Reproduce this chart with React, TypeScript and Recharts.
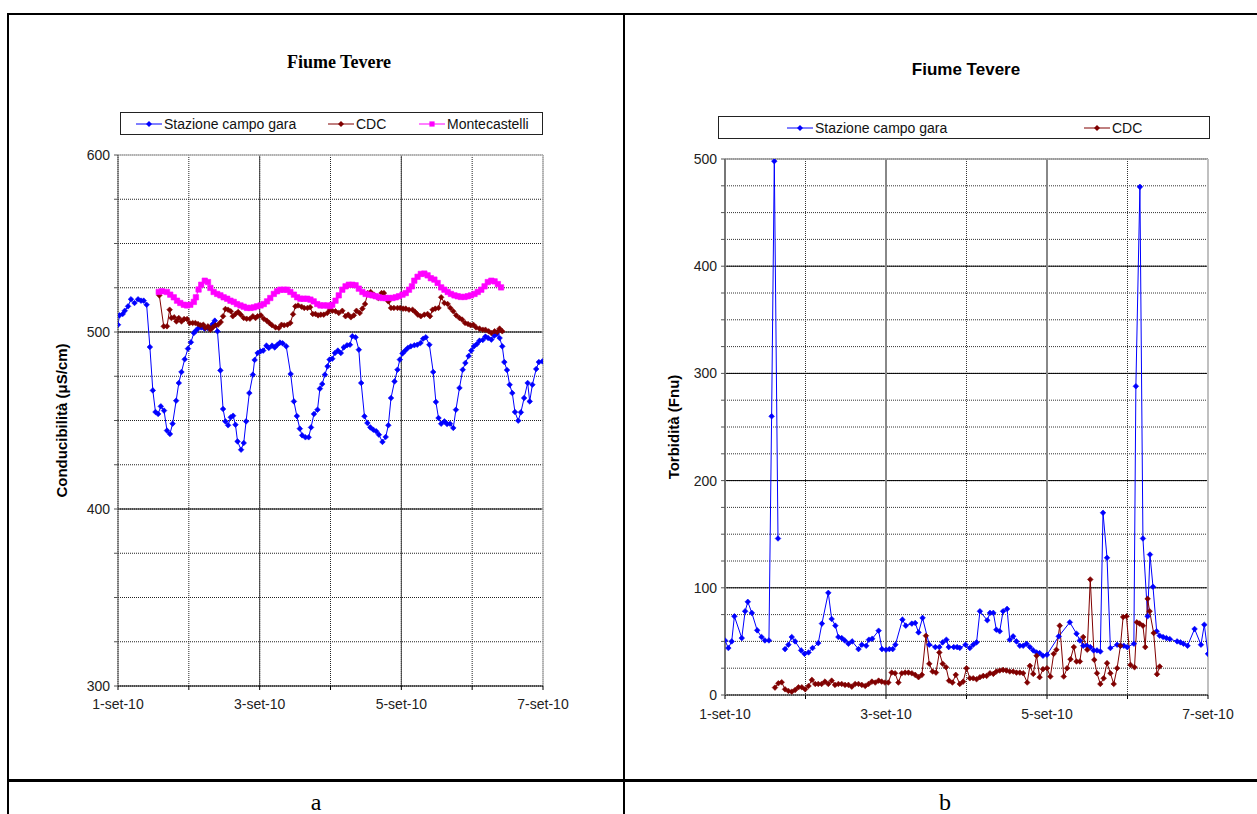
import React from 'react';
import { LineChart, Line, XAxis, YAxis, CartesianGrid, ReferenceLine, Legend, Label } from 'recharts';

// ---------- shared axis data ----------
const dayTicks = [0, 24, 48, 72, 96, 120, 144];
const dayLabels: Record<number, string> = { 0: '1-set-10', 48: '3-set-10', 96: '5-set-10', 144: '7-set-10' };
const condTicks = [300, 325, 350, 375, 400, 425, 450, 475, 500, 525, 550, 575, 600];
const condMajor = [400, 500];
const turbTicks = [0, 25, 50, 75, 100, 125, 150, 175, 200, 225, 250, 275, 300, 325, 350, 375, 400, 425, 450, 475, 500];
const turbMajor = [100, 200, 300, 400];
const dayMajor = [48, 96];

// ---------- series names ----------
const nameStazione = 'Stazione campo gara';
const nameCdc = 'CDC';
const nameMonte = 'Montecastelli';
const legendA = [nameStazione, nameCdc, nameMonte];
const legendB = [nameStazione, nameCdc];

// ---------- chart a : conducibilità ----------
const condStazioneT = [0, 0.5, 1.6, 2.3, 3.4, 4.4, 5.6, 6.8, 7.8, 8.7, 9.7, 10.8, 11.8, 12.7, 13.6, 14.5, 15.6, 16.6, 17.6, 18.5, 19.7, 20.6, 21.5, 22.6, 23.7, 24.7, 25.7, 26.4, 27.3, 28.2, 29.3, 30.3, 31.3, 32.1, 32.8, 33.7, 34.7, 35.6, 36.4, 37.3, 38.2, 39.0, 39.8, 40.5, 41.7, 42.6, 43.4, 44.5, 45.7, 46.3, 47.3, 48.3, 49.2, 50.3, 51.1, 52.2, 53.1, 54.0, 54.9, 55.8, 57.0, 58.5, 59.6, 60.6, 61.6, 62.4, 63.5, 64.6, 65.4, 66.4, 67.6, 68.4, 69.2, 70.1, 71.0, 71.7, 72.6, 73.5, 74.5, 75.5, 76.5, 77.6, 78.6, 79.4, 80.5, 81.6, 82.4, 83.5, 84.5, 85.5, 86.5, 87.5, 88.4, 89.6, 90.7, 91.6, 92.5, 93.7, 94.7, 95.5, 96.4, 97.3, 98.2, 99.2, 100.4, 101.4, 102.5, 103.4, 104.3, 105.5, 106.8, 107.7, 108.6, 109.5, 110.6, 111.5, 112.5, 113.6, 114.5, 115.7, 116.8, 117.7, 118.8, 119.7, 120.6, 121.6, 122.5, 123.6, 124.5, 125.4, 126.5, 127.5, 128.4, 129.3, 130.2, 130.9, 131.8, 132.7, 133.6, 134.5, 135.6, 136.5, 137.6, 138.8, 139.5, 140.4, 141.7, 142.6, 143.8];
const condStazioneV = [504.1, 509.4, 510.2, 512, 514.5, 518.5, 516.4, 518.5, 517.7, 517.7, 515.4, 491.5, 467, 454.8, 453.7, 458, 455.6, 444.3, 442.4, 448.2, 461.2, 471.2, 477.4, 484.6, 490.6, 494.2, 499.4, 500.8, 502.3, 502.6, 501.9, 502.3, 502.6, 504.5, 506.4, 500.4, 478.3, 456.5, 449.5, 447.3, 451.8, 452.7, 447.6, 438.2, 433.5, 437.3, 449.5, 465.5, 475.9, 484.2, 488.1, 489.1, 489.5, 492.3, 491, 492.3, 491.3, 492.8, 494, 493.6, 491.9, 476.3, 460.8, 452.5, 445.4, 441.6, 440.5, 440.5, 446.1, 453.7, 456.1, 468, 470.6, 475.9, 480.6, 484.4, 484.9, 488.1, 489.5, 488.1, 491.3, 492.5, 492.8, 497.6, 497, 490, 471.2, 452.4, 448.6, 446.1, 444.8, 443.9, 442, 437.9, 440.7, 447.3, 462.7, 472.1, 478.7, 484.4, 487.9, 489.5, 491, 491.9, 492.5, 492.8, 493.8, 496.2, 497, 492.8, 477.4, 460.5, 451.4, 448.2, 449.5, 448, 448.2, 445.8, 456.1, 468.4, 478.7, 482.5, 486.4, 489.5, 491.9, 493.2, 495.1, 495.5, 497.4, 496.6, 495.7, 497.9, 498.9, 496.6, 491.9, 483, 478.5, 470.2, 465.5, 454.8, 449.9, 454.6, 462.7, 471.2, 460.8, 470.2, 479.1, 483, 483.4];

const condCdcT = [14.0, 15.5, 16.6, 17.5, 18.1, 19.0, 19.8, 20.6, 21.5, 22.4, 23.4, 24.3, 25.3, 26.2, 27.1, 28.0, 28.9, 29.6, 30.5, 31.3, 32.1, 33.0, 33.9, 34.8, 35.6, 36.4, 37.3, 38.2, 38.9, 39.8, 40.7, 41.6, 42.6, 43.6, 44.7, 45.7, 46.6, 47.3, 48.4, 49.4, 50.4, 51.3, 52.2, 53.4, 54.5, 55.4, 56.3, 57.4, 58.4, 59.3, 60.1, 61.0, 62.2, 63.1, 64.2, 65.1, 66.0, 66.9, 67.8, 68.7, 69.7, 70.9, 71.8, 72.6, 73.7, 74.8, 76.0, 77.1, 78.0, 78.9, 79.9, 80.8, 81.9, 82.8, 83.7, 84.6, 85.6, 86.7, 88.2, 89.3, 90.1, 91.6, 92.5, 93.5, 94.7, 95.6, 96.6, 97.5, 98.6, 99.8, 100.7, 101.6, 102.6, 103.8, 104.9, 105.7, 106.6, 107.5, 108.6, 109.5, 110.6, 111.7, 112.6, 113.6, 114.6, 115.7, 116.6, 117.6, 118.6, 119.5, 120.4, 121.3, 122.5, 123.6, 124.5, 125.6, 126.5, 127.6, 128.5, 129.3, 130.2];
const condCdcV = [520.7, 503.2, 503.2, 512.6, 507.9, 508.3, 506, 507.9, 506, 507.3, 507.3, 505.1, 505.1, 505.1, 504.5, 503.8, 504.1, 502.3, 503.2, 501.3, 502.6, 503.8, 504.1, 505.6, 508.9, 513, 512.6, 511.7, 508.9, 510.2, 511.3, 509.8, 507.9, 507.5, 507.5, 508.9, 507.9, 508.9, 509.4, 507.5, 506.4, 505.1, 503.8, 502.6, 502.3, 504.1, 503.8, 504.1, 505.1, 510, 514.5, 515, 514.3, 513.6, 513.6, 514, 510.2, 510.2, 509.4, 509.8, 509.8, 510.7, 512.5, 512, 511.7, 510.7, 512, 508.9, 509.8, 508.3, 509.4, 512, 510.7, 513.2, 515.8, 522, 522.6, 521.1, 519.2, 522, 522, 517.3, 513.6, 513.6, 513.6, 513.6, 513.2, 513.2, 512.6, 512.6, 511.3, 509.8, 508.9, 509.8, 510.2, 508.9, 512.6, 513.2, 513.6, 519.6, 516.4, 515.8, 513.6, 511.7, 509.4, 507.9, 507, 505.1, 504.5, 503.8, 504.1, 502.6, 501.9, 501.3, 501.3, 500.4, 499.4, 500.4, 500, 501.9, 500.4];

const condMonteT = [13.8, 14.9, 16.6, 17.7, 18.9, 20.0, 21.1, 22.3, 23.4, 24.5, 25.7, 26.4, 27.3, 28.2, 29.4, 30.5, 31.3, 32.4, 33.6, 34.7, 35.8, 37.0, 38.1, 39.2, 40.3, 41.5, 42.6, 43.7, 44.9, 46.0, 47.1, 48.3, 49.4, 50.5, 51.6, 52.8, 53.9, 55.0, 56.2, 57.3, 58.4, 59.6, 60.7, 61.8, 62.9, 64.1, 65.2, 66.3, 67.5, 68.6, 69.7, 70.9, 71.8, 72.6, 73.7, 74.8, 76.0, 77.1, 78.2, 79.4, 80.5, 81.6, 82.8, 83.9, 85.0, 86.2, 87.3, 88.4, 89.6, 90.7, 91.8, 93.0, 94.1, 95.2, 96.4, 97.5, 98.6, 99.6, 100.4, 101.5, 102.6, 103.8, 104.9, 106.0, 107.2, 108.3, 109.5, 110.6, 111.7, 112.8, 114.0, 115.1, 116.2, 117.4, 118.5, 119.6, 120.8, 121.9, 123.1, 124.2, 125.3, 126.5, 127.6, 128.7, 129.8];
const condMonteV = [522.6, 523, 522.6, 521.1, 519.6, 517.7, 516.4, 515.4, 515, 515.4, 517, 519.6, 524, 526.7, 529, 528.2, 524.9, 522.6, 521.5, 520.7, 519.6, 518.8, 517.7, 517, 515.8, 515, 514.3, 513.6, 513.6, 513.9, 514.5, 515, 515.8, 517.3, 519.2, 521.5, 523, 523.9, 523.9, 523.9, 522.6, 521.1, 519.6, 518.8, 518.8, 518.8, 518.3, 517.3, 515.8, 515, 515, 515, 514.6, 515.4, 517.7, 520.7, 523.9, 525.8, 526.7, 526.7, 526.4, 524.5, 522.6, 521.5, 521.1, 520.7, 520.2, 519.6, 519.2, 519.2, 519.2, 519.2, 519.6, 520.2, 521.1, 522, 523.9, 525.8, 529, 531.2, 532.8, 533, 532, 530.4, 529.6, 527.7, 525.2, 523.9, 522.6, 521.5, 520.7, 520.2, 519.8, 519.8, 520.2, 520.7, 521.5, 522.6, 523.9, 525.8, 528.2, 529, 528.6, 527.1, 525.2];

// ---------- chart b : torbidità ----------
const turbStazioneT = [0, 1.0, 2.0, 2.8, 5.0, 6.0, 6.8, 8.0, 9.6, 10.9, 11.9, 13.1, 13.9, 14.7, 15.8, 16.8, 17.9, 18.9, 19.9, 20.9, 22.7, 23.7, 24.9, 26.1, 27.8, 28.9, 30.8, 31.8, 32.9, 33.8, 34.8, 35.7, 36.8, 37.9, 39.8, 40.8, 42.1, 42.9, 43.9, 45.8, 46.8, 48.0, 49.0, 50.0, 50.8, 52.9, 53.9, 55.7, 56.7, 57.7, 58.9, 60.9, 62.7, 63.9, 64.9, 66.0, 66.7, 68.2, 69.2, 70.0, 71.7, 73.0, 74.0, 75.0, 76.0, 78.2, 79.0, 80.0, 80.9, 81.9, 82.9, 84.1, 84.9, 85.9, 86.9, 87.9, 88.9, 89.9, 90.9, 91.9, 92.9, 93.8, 94.8, 96.0, 99.5, 102.8, 104.8, 105.8, 106.8, 107.9, 108.9, 109.9, 110.9, 111.9, 112.7, 113.9, 114.9, 116.9, 117.9, 118.9, 119.9, 121.9, 122.5, 123.7, 124.6, 126.0, 126.7, 127.6, 128.7, 129.6, 130.6, 131.6, 132.6, 134.8, 135.8, 136.7, 137.9, 140.0, 141.9, 142.9, 144.0];
const turbStazioneV = [50.9, 43.8, 50, 73.4, 53.1, 78.1, 86.9, 76.6, 60.3, 54.1, 50.9, 50.9, 260, 498, 146, null, 42.8, 46.9, 54.1, 50, 41.6, 38.4, 39.7, 43.8, 48.4, 66.6, 95.3, 70.9, 64.7, 54.1, 53.1, 50.9, 47.8, 50, 42.8, 46.9, 45.9, 51.6, 52.5, 60, 42.8, 42.2, 42.8, 42.8, 46.9, 70.3, 64.7, 66.6, 67.2, 58.4, 71.9, 46.9, 44.7, 44.7, 49.1, 51.6, 44.7, 44.7, 44.7, 44, 46.9, 43.8, 46.9, 49.1, 78.1, 69.7, 76.6, 76.6, 60.9, 59.4, 78.1, 80.3, 51.6, 54.7, 50, 45.9, 45.9, 47.8, 44.7, 41.6, 39.7, 39.1, 36.6, 37.5, 54.7, 67.8, 57.2, 50.9, 45.9, 45.9, 44.7, 41.6, 41.6, 40.6, 170, 128, 43.8, 46.9, 45.9, 45.9, 44.7, 47.8, 288, 474, 146, 73.4, 131, 101, 59.4, 55.3, 54.1, 53.1, 52.2, 50, 49.1, 47.8, 45.9, 61.6, 46.9, 65.6, 38.4];

const turbCdcT = [14.9, 15.9, 16.9, 17.9, 18.9, 19.9, 20.9, 21.9, 22.9, 23.9, 24.9, 25.9, 26.9, 27.8, 28.8, 29.8, 30.8, 31.8, 32.8, 33.8, 34.8, 35.8, 36.8, 37.8, 38.8, 39.8, 40.8, 41.8, 42.8, 43.8, 44.8, 45.8, 46.7, 47.7, 48.7, 49.7, 50.7, 51.7, 52.7, 53.7, 54.7, 55.7, 56.7, 57.7, 58.7, 59.9, 60.9, 61.9, 62.9, 63.9, 64.9, 65.9, 66.8, 67.8, 68.8, 70.0, 71.0, 72.0, 73.0, 74.0, 75.0, 76.0, 77.0, 78.0, 79.0, 80.0, 80.9, 81.9, 82.9, 83.9, 84.9, 85.9, 86.9, 87.9, 88.9, 90.1, 90.9, 91.9, 92.9, 93.8, 94.8, 96.0, 97.0, 98.0, 98.8, 99.8, 101.0, 102.0, 103.0, 104.0, 104.8, 105.8, 106.8, 108.0, 108.9, 110.1, 110.9, 111.9, 112.9, 113.9, 114.9, 115.9, 116.9, 117.9, 118.7, 119.7, 120.9, 122.1, 122.8, 123.6, 124.6, 125.3, 126.0, 126.6, 127.8, 128.8, 129.6];
const turbCdcV = [6.9, 10.9, 11.9, 5.3, 3.8, 3.1, 4.7, 7.2, 7.2, 5.3, 8.4, 14.1, 10.3, 10.3, 10.3, 12.5, 10.3, 13.4, 9.4, 10.3, 10.3, 9.4, 9.4, 7.8, 10.3, 10.3, 9.4, 8.4, 10.3, 12.5, 11.6, 13.4, 12.5, 11.6, 11.6, 20.9, 20.3, 11.6, 20.3, 20.9, 20.9, 20.3, 18.8, 16.6, 18.8, 55.3, 29.1, 21.9, 20.9, 39.7, 29.1, 25.9, 13.4, 11.6, 18.8, 10.3, 12.5, 25, 15.6, 15.6, 14.7, 16.6, 17.8, 17.8, 20.3, 19.7, 21.9, 22.8, 23.4, 22.8, 21.9, 21.9, 20.9, 20.9, 20.3, 11.6, 27.2, 19.7, 36.6, 16.6, 24.1, 25, 17.2, 38.4, 42.2, 64.7, 17.2, 25, 33.4, 44.7, 31.3, 31.3, 54.1, 42.2, 107.8, 32.8, 20.3, 10.3, 15.6, 29.7, 20.3, 10.3, 25, 45.9, 72.8, 73.4, 28.1, 25.9, 67.8, 66.6, 64.7, 44.7, 89.7, 78.1, 57.8, 19.4, 26.6];

const zip = (t: number[], v: (number | null)[]) => t.map((x, i) => ({ t: x, v: v[i] }));

const BLUE = '#0000FF';
const RED = '#800000';
const MAGENTA = '#FF00FF';
const SANS = '"Liberation Sans", Arial, sans-serif';
const SERIF = '"Liberation Serif", "Times New Roman", serif';

type Shape = 'diamond' | 'square';

const markerPath = (shape: Shape, cx: number, cy: number, r: number) =>
  shape === 'diamond'
    ? `M${cx},${cy - r}L${cx + r},${cy}L${cx},${cy + r}L${cx - r},${cy}Z`
    : `M${cx - r},${cy - r}L${cx + r},${cy - r}L${cx + r},${cy + r}L${cx - r},${cy + r}Z`;

const makeDot = (shape: Shape, color: string, r: number) => (props: any) => {
  const { cx, cy, value, index } = props;
  const k = `d-${index}`;
  if (cx == null || cy == null || value == null || (Array.isArray(value) && value[1] == null)) return <g key={k} />;
  return <path key={k} d={markerPath(shape, cx, cy, r)} fill={color} stroke={color} strokeWidth={0.6} />;
};

const shapes: Record<string, { shape: Shape; r: number }> = {
  [nameStazione]: { shape: 'diamond', r: 3 },
  [nameCdc]: { shape: 'diamond', r: 3 },
  [nameMonte]: { shape: 'square', r: 2.6 },
};

const makeLegend = (order: string[], offsets: number[], width: number) => (props: any) => {
  const payload: any[] = props.payload || [];
  return (
    <div style={{ position: 'relative', width, height: 23, border: '1px solid #222', boxSizing: 'border-box', background: '#fff' }}>
      {order.map((name, i) => {
        const p = payload.find((q) => q.value === name);
        const color = p ? p.color : '#000';
        const s = shapes[name];
        return (
          <div key={name} style={{ position: 'absolute', left: offsets[i], top: 0, height: 21, display: 'flex', alignItems: 'center' }}>
            <svg width={26} height={10} style={{ display: 'block' }}>
              <line x1={0} y1={5} x2={26} y2={5} stroke={color} strokeWidth={1} />
              <path d={markerPath(s.shape, 13, 5, s.r)} fill={color} />
            </svg>
            <span style={{ fontFamily: SANS, fontSize: 14, color: '#111', marginLeft: 2, whiteSpace: 'nowrap' }}>{name}</span>
          </div>
        );
      })}
    </div>
  );
};

const yLabel = (text: string, dx: number) => (props: any) => {
  const vb = props.viewBox || { x: 0, y: 0, width: 0, height: 0 };
  const x = vb.x + dx;
  const y = vb.y + vb.height / 2;
  return (
    <text x={x} y={y} transform={`rotate(-90, ${x}, ${y})`} textAnchor="middle" dominantBaseline="central"
      style={{ fontFamily: SANS, fontSize: 15, fontWeight: 'bold', fill: '#000' }}>
      {text}
    </text>
  );
};

const fmtDay = (v: number) => dayLabels[v] ?? '';
const fmtHundred = (v: number) => (v % 100 === 0 ? String(v) : '');
const tickStyle = { fontFamily: SANS, fontSize: 14, fill: '#222' };

const ChartA = () => (
  <LineChart width={560} height={616} margin={{ top: 55, right: 57, bottom: 0, left: 0 }}>
    <CartesianGrid stroke="#222" strokeDasharray="1 1" strokeWidth={1} />
    <XAxis dataKey="t" type="number" domain={[0, 144]} ticks={dayTicks} interval={0} allowDataOverflow
      tickFormatter={fmtDay} height={30} tick={tickStyle} tickSize={4} tickMargin={9}
      axisLine={{ stroke: '#000' }} tickLine={{ stroke: '#000' }} />
    <YAxis type="number" domain={[300, 600]} ticks={condTicks} interval={0} allowDataOverflow
      tickFormatter={fmtHundred} width={78} tick={tickStyle} tickSize={4} tickMargin={4}
      axisLine={{ stroke: '#555' }} tickLine={{ stroke: '#555' }}>
      <Label content={yLabel('Conducibilità (μS/cm)', 21)} />
    </YAxis>
    {condMajor.map((y) => <ReferenceLine key={`h${y}`} y={y} stroke="#000" strokeWidth={1} />)}
    {dayMajor.map((x) => <ReferenceLine key={`v${x}`} x={x} stroke="#444" strokeWidth={1} />)}
    <ReferenceLine y={600} stroke="#bbb" strokeWidth={1.5} />
    <ReferenceLine x={144} stroke="#bbb" strokeWidth={1.5} />
    <Legend layout="horizontal" verticalAlign="middle" align="center"
      wrapperStyle={{ left: 80, top: 12, width: 423, height: 23 }}
      content={makeLegend(legendA, [15, 207, 298], 423)} />
    <Line name={nameStazione} data={zip(condStazioneT, condStazioneV)} dataKey="v" stroke={BLUE} strokeWidth={1}
      dot={makeDot('diamond', BLUE, 2.8)} activeDot={false} isAnimationActive={false} />
    <Line name={nameCdc} data={zip(condCdcT, condCdcV)} dataKey="v" stroke={RED} strokeWidth={1}
      dot={makeDot('diamond', RED, 2.8)} activeDot={false} isAnimationActive={false} />
    <Line name={nameMonte} data={zip(condMonteT, condMonteV)} dataKey="v" stroke={MAGENTA} strokeWidth={1}
      dot={makeDot('square', MAGENTA, 2.7)} activeDot={false} isAnimationActive={false} />
  </LineChart>
);

const ChartB = () => (
  <LineChart width={625} height={625} margin={{ top: 59, right: 47, bottom: 0, left: 0 }}>
    <CartesianGrid stroke="#333" strokeDasharray="1 1" strokeWidth={1} />
    <XAxis dataKey="t" type="number" domain={[0, 144]} ticks={dayTicks} interval={0} allowDataOverflow
      tickFormatter={fmtDay} height={30} tick={tickStyle} tickSize={4} tickMargin={10}
      axisLine={{ stroke: '#000' }} tickLine={{ stroke: '#000' }} />
    <YAxis type="number" domain={[0, 500]} ticks={turbTicks} interval={0} allowDataOverflow
      tickFormatter={fmtHundred} width={95} tick={tickStyle} tickSize={4} tickMargin={4}
      axisLine={{ stroke: '#777', strokeWidth: 2 }} tickLine={{ stroke: '#555' }}>
      <Label content={yLabel('Torbidità (Fnu)', 43)} />
    </YAxis>
    {turbMajor.map((y) => <ReferenceLine key={`h${y}`} y={y} stroke="#000" strokeWidth={1} />)}
    {dayMajor.map((x) => <ReferenceLine key={`v${x}`} x={x} stroke="#888" strokeWidth={2} />)}
    <ReferenceLine y={500} stroke="#999" strokeWidth={1.5} />
    <ReferenceLine x={144} stroke="#c0c0c0" strokeWidth={2} />
    <Legend layout="horizontal" verticalAlign="middle" align="center"
      wrapperStyle={{ left: 88, top: 16, width: 492, height: 23 }}
      content={makeLegend(legendB, [68, 365], 492)} />
    <Line name={nameStazione} data={zip(turbStazioneT, turbStazioneV)} dataKey="v" stroke={BLUE} strokeWidth={1}
      dot={makeDot('diamond', BLUE, 2.8)} activeDot={false} connectNulls={false} isAnimationActive={false} />
    <Line name={nameCdc} data={zip(turbCdcT, turbCdcV)} dataKey="v" stroke={RED} strokeWidth={1}
      dot={makeDot('diamond', RED, 2.8)} activeDot={false} isAnimationActive={false} />
  </LineChart>
);

const rule = (left: number, top: number, width: number, height: number) => (
  <div style={{ position: 'absolute', left, top, width, height, background: '#000' }} />
);

export default function App() {
  return (
    <div style={{ position: 'absolute', left: 0, top: 0, width: 1257, height: 814, background: '#fff', overflow: 'hidden' }}>
      <div style={{ position: 'absolute', left: 239, top: 51, width: 200, textAlign: 'center', fontFamily: SERIF, fontWeight: 'bold', fontSize: 18, lineHeight: '22px', color: '#000' }}>
        Fiume Tevere
      </div>
      <div style={{ position: 'absolute', left: 866, top: 59, width: 200, textAlign: 'center', fontFamily: SANS, fontWeight: 'bold', fontSize: 17, lineHeight: '22px', color: '#000' }}>
        Fiume Tevere
      </div>

      <div style={{ position: 'absolute', left: 40, top: 100 }}>
        <ChartA />
      </div>
      <div style={{ position: 'absolute', left: 630, top: 100 }}>
        <ChartB />
      </div>

      {rule(7, 13, 1250, 2)}
      {rule(7, 13, 2, 801)}
      {rule(623, 13, 2, 801)}
      {rule(7, 779, 1250, 3)}

      <div style={{ position: 'absolute', left: 266, top: 788, width: 100, textAlign: 'center', fontFamily: SERIF, fontSize: 24, lineHeight: '28px', color: '#000' }}>a</div>
      <div style={{ position: 'absolute', left: 895, top: 788, width: 100, textAlign: 'center', fontFamily: SERIF, fontSize: 24, lineHeight: '28px', color: '#000' }}>b</div>
    </div>
  );
}
